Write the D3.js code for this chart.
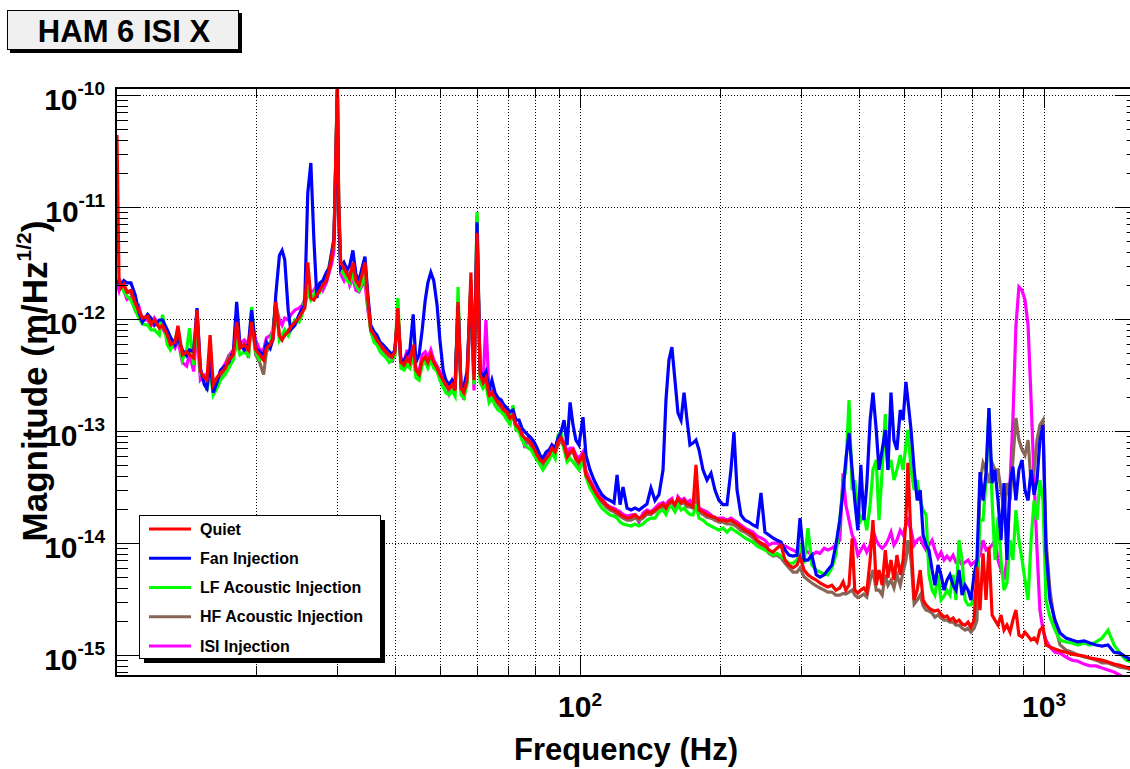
<!DOCTYPE html>
<html>
<head>
<meta charset="utf-8">
<script src="https://cdn.jsdelivr.net/npm/d3@7"></script>
<style>
  body { margin: 0; background: #fff; }
  text { font-family: "Liberation Sans", Arial, Helvetica, sans-serif; font-weight: bold; fill: #000; }
</style>
</head>
<body>
<script>
// Spectra, shared frequency grid (Hz)
const freqHz = [
  10.05,10.15,10.25,10.4,10.56,10.77,11.0,11.2,11.4,11.7,
  11.9,12.1,12.4,12.6,12.9,13.1,13.4,13.6,13.9,14.2,
  14.4,14.7,14.95,15.2,15.5,15.7,15.95,16.2,16.5,16.8,
  17.2,17.5,17.9,18.2,18.5,18.9,19.3,19.6,20.0,
  20.4,20.8,21.1,21.5,21.8,22.1,22.5,22.8,23.1,23.5,
  23.8,24.3,24.8,25.2,25.5,25.9,26.3,26.7,27.1,27.5,
  27.9,28.4,28.8,29.2,29.5,30.0,30.2,30.5,31.0,31.5,
  31.9,32.4,32.9,33.4,33.9,34.4,34.9,35.4,36.0,36.5,
  37.1,37.6,38.2,38.8,39.4,39.9,
  40.5,41.1,41.8,42.4,43.0,43.7,44.3,45.0,45.7,46.4,
  47.0,47.7,48.4,49.2,49.9,50.7,51.4,52.2,53.0,53.8,
  54.6,55.4,56.2,57.1,58.2,59.1,60.0,60.9,61.8,62.7,
  63.7,64.6,65.6,66.6,67.6,68.6,69.6,70.7,71.7,72.8,
  73.9,75.0,76.1,77.3,78.4,79.6,80.8,82.0,83.2,84.5,
  85.8,87.0,88.4,89.7,91.0,92.4,93.8,95.2,96.6,98.0,
  99.5,101.5,103.0,
  105.1,107.2,109.4,111.5,113.8,116.1,118.4,120.2,122.0,123.8,
  126.3,128.8,131.4,134.0,136.7,139.4,142.2,145.1,148.0,151.0,
  153.2,155.5,157.8,160.2,162.6,165.1,167.6,170.1,172.6,175.2,
  177.8,180.5,184.1,187.8,191.6,195.4,199.3,203.3,207.4,211.5,
  214.7,218.0,222.3,226.8,231.3,235.9,240.7,245.5,250.4,255.4,
  260.5,265.8,271.1,276.6,282.1,287.8,293.6,298.0,
  304,310,316,323,329,336,342,349,356,363,
  369,374,380,386,391,397,403,409,415,422,
  428,435,441,448,455,461,468,475,482,490,
  497,504,509,517,525,533,541,549,557,565,
  574,582,591,600,609,618,627,637,646,656,
  666,676,686,696,707,717,
  728,739,750,761,773,784,796,808,820,832,
  845,857,870,883,897,910,924,938,952,966,
  980,995,1010,1030,1056,1083,1115,1149,1184,1220,
  1256,1295,1334,1374,1416,1458,1502,1548
];

// m/sqrt(Hz)
const quiet = [
  4.4e-11,2.3e-12,1.9e-12,2.05e-12,1.74e-12,1.8e-12,1.39e-12,1.18e-12,1.02e-12,1.06e-12,
  9.0e-13,9.8e-13,8.3e-13,8.8e-13,7.2e-13,5.9e-13,6.2e-13,8.7e-13,4.8e-13,5.1e-13,
  4.8e-13,4.5e-13,1.2e-12,3.4e-13,3.0e-13,2.85e-13,7.2e-13,2.6e-13,3.0e-13,3.3e-13,
  3.65e-13,4.3e-13,4.8e-13,9.4e-13,5.5e-13,5.9e-13,5.3e-13,9.4e-13,5.3e-13,
  4.8e-13,4.3e-13,5.5e-13,5.9e-13,6.8e-13,1.42e-12,7.1e-13,6.5e-13,7.2e-13,7.7e-13,
  8.5e-13,9.4e-13,1.02e-12,1.15e-12,1.25e-12,3.2e-12,1.54e-12,1.48e-12,1.64e-12,1.8e-12,
  2.0e-12,2.2e-12,2.75e-12,3.7e-12,5.1e-12,1.3e-10,1.15e-11,3.2e-12,2.85e-12,2.5e-12,
  2.3e-12,3.2e-12,2.2e-12,2.0e-12,2.5e-12,3.2e-12,1.48e-12,8.0e-13,7.2e-13,6.5e-13,
  5.9e-13,5.5e-13,5.1e-13,4.8e-13,4.6e-13,5.1e-13,
  1.25e-12,4.1e-13,3.9e-13,4.5e-13,4.1e-13,5.9e-13,3.5e-13,3.2e-13,4.3e-13,4.6e-13,
  4.1e-13,4.8e-13,4.1e-13,3.65e-13,3.2e-13,2.85e-13,2.6e-13,2.4e-13,2.6e-13,2.3e-13,
  1.42e-12,2.4e-13,2.2e-13,2.85e-13,2.6e-12,2.85e-13,5.9e-12,3.2e-13,2.7e-13,3.0e-13,
  2.1e-13,2.2e-13,1.97e-13,1.8e-13,1.7e-13,1.54e-13,1.48e-13,1.3e-13,1.39e-13,1.13e-13,
  1.06e-13,9.2e-14,8.66e-14,8.3e-14,7.8e-14,7.05e-14,6.1e-14,5.5e-14,5.3e-14,5.7e-14,
  6.1e-14,7.05e-14,6.5e-14,8.0e-14,8.7e-14,7.5e-14,5.9e-14,6.5e-14,6.8e-14,5.7e-14,
  5.3e-14,6.1e-14,4.05e-14,
  3.5e-14,3.0e-14,2.6e-14,2.4e-14,2.2e-14,2.05e-14,1.97e-14,1.9e-14,1.8e-14,1.74e-14,
  1.67e-14,1.7e-14,1.78e-14,1.67e-14,1.74e-14,1.9e-14,1.85e-14,1.97e-14,2.1e-14,2.23e-14,
  2.05e-14,2.3e-14,2.4e-14,2.2e-14,2.5e-14,2.3e-14,2.4e-14,2.23e-14,2.2e-14,2.1e-14,
  5.0e-14,1.97e-14,1.9e-14,1.78e-14,1.74e-14,1.7e-14,1.6e-14,1.6e-14,1.57e-14,1.6e-14,
  1.54e-14,1.48e-14,1.39e-14,1.3e-14,1.25e-14,1.18e-14,1.06e-14,1.0e-14,9.6e-15,8.66e-15,
  8.3e-15,9.0e-15,9.6e-15,7.05e-15,6.36e-15,6.0e-15,6.36e-15,7.5e-15,
  5.74e-15,5.2e-15,4.9e-15,4.67e-15,4.4e-15,4.2e-15,4.05e-15,4.2e-15,3.8e-15,3.97e-15,
  4.5e-15,3.8e-15,4.2e-15,1.1e-14,3.8e-15,3.58e-15,3.8e-15,3.97e-15,3.65e-15,7.05e-15,
  1.6e-14,4.2e-15,5.74e-15,4.2e-15,8.66e-15,4.9e-15,7.05e-15,4.67e-15,7.8e-15,5.2e-15,
  7.05e-15,1.6e-14,5.2e-14,1.06e-14,3.1e-15,3.8e-15,5.74e-15,3.1e-15,2.8e-15,2.63e-15,
  2.52e-15,2.47e-15,2.52e-15,2.32e-15,2.18e-15,2.23e-15,2.05e-15,2.14e-15,1.97e-15,2.05e-15,
  1.89e-15,1.85e-15,1.97e-15,1.78e-15,2.05e-15,6.1e-15,
  2.52e-15,8.1e-15,3.1e-15,9.2e-15,2.28e-15,2.05e-15,1.85e-15,2.28e-15,1.67e-15,1.85e-15,
  1.6e-15,2.05e-15,2.52e-15,1.51e-15,1.45e-15,1.6e-15,1.48e-15,1.36e-15,1.42e-15,1.31e-15,
  1.67e-15,1.78e-15,1.23e-15,1.18e-15,1.13e-15,1.09e-15,1.06e-15,1.02e-15,1.0e-15,9.8e-16,
  9.4e-16,9.2e-16,9.0e-16,8.66e-16,8.3e-16,8.1e-16,7.8e-16,7.5e-16
];

const fanInjection = [
  2.2e-12,2.1e-12,2.0e-12,2.2e-12,2.1e-12,2.1e-12,1.64e-12,1.15e-12,9.4e-13,1.1e-12,
  1.02e-12,8.8e-13,9.8e-13,9.8e-13,8.0e-13,6.9e-13,5.9e-13,6.8e-13,5.3e-13,4.7e-13,
  5.3e-13,5.1e-13,1.25e-12,3.65e-13,2.6e-13,2.4e-13,4.3e-13,2.2e-13,2.7e-13,3.5e-13,
  3.8e-13,4.1e-13,5.1e-13,1.42e-12,5.9e-13,5.3e-13,6.0e-13,1.2e-12,5.5e-13,
  5.1e-13,4.8e-13,6.2e-13,5.5e-13,6.8e-13,1.64e-12,3.7e-12,4.1e-12,3.4e-12,1.2e-12,
  8.0e-13,8.8e-13,1.09e-12,1.25e-12,1.33e-12,1.33e-11,2.47e-11,5.1e-12,1.54e-12,2.1e-12,
  2.2e-12,2.6e-12,2.85e-12,4.1e-12,5.3e-12,1.1e-10,9.4e-12,2.85e-12,3.2e-12,2.75e-12,
  3.0e-12,4.1e-12,2.5e-12,2.2e-12,2.85e-12,3.6e-12,1.64e-12,8.8e-13,7.7e-13,7.2e-13,
  6.2e-13,5.9e-13,5.5e-13,5.1e-13,4.8e-13,5.3e-13,
  1.09e-12,4.3e-13,4.3e-13,4.8e-13,5.3e-13,1.1e-12,4.1e-13,4.8e-13,8.0e-13,1.48e-12,
  2.1e-12,2.6e-12,2.2e-12,1.33e-12,6.5e-13,3.5e-13,2.85e-13,2.6e-13,2.85e-13,2.6e-13,
  1.33e-12,2.6e-13,2.5e-13,3.4e-13,2.0e-12,3.2e-13,7.3e-12,3.5e-13,3.0e-13,3.4e-13,
  2.3e-13,2.85e-13,2.2e-13,1.97e-13,1.9e-13,1.7e-13,1.6e-13,1.48e-13,1.54e-13,1.25e-13,
  1.25e-13,1.06e-13,9.8e-14,9.2e-14,8.7e-14,8.0e-14,7.05e-14,6.1e-14,5.7e-14,6.5e-14,
  6.8e-14,7.5e-14,7.05e-14,8.7e-14,9.8e-14,1.25e-13,7.5e-14,1.8e-13,1.13e-13,8.3e-14,
  7.5e-14,1.33e-13,6.1e-14,
  4.5e-14,3.65e-14,3.1e-14,2.7e-14,2.5e-14,2.4e-14,2.28e-14,4.05e-14,2.2e-14,3.16e-14,
  2.05e-14,1.97e-14,2.05e-14,1.97e-14,2.1e-14,2.23e-14,3.1e-14,2.4e-14,2.7e-14,4.5e-14,
  1.89e-13,4.3e-13,5.6e-13,2.85e-13,1.45e-13,1.25e-13,2.2e-13,1.25e-13,7.5e-14,7.8e-14,
  8.3e-14,6.8e-14,4.5e-14,3.65e-14,4.2e-14,2.97e-14,2.4e-14,2.2e-14,2.2e-14,4.5e-14,
  9.8e-14,2.97e-14,1.78e-14,1.6e-14,1.54e-14,1.45e-14,1.39e-14,2.8e-14,1.25e-14,1.18e-14,
  1.11e-14,1.06e-14,1.02e-14,8.66e-15,7.8e-15,7.65e-15,7.8e-15,1.67e-14,
  7.05e-15,7.05e-15,7.8e-15,5.2e-15,4.97e-15,5.2e-15,5.74e-15,6.36e-15,9.6e-15,1.6e-14,
  2.97e-14,5.5e-14,9.6e-14,4.5e-14,2.4e-14,1.3e-14,5.0e-14,1.6e-14,3.3e-14,1.25e-13,
  2.2e-13,1.02e-13,4.5e-14,6.8e-14,1.02e-13,4.5e-14,2.2e-13,8.3e-14,6.8e-14,1.54e-13,
  1.25e-13,2.75e-13,1.89e-13,1.02e-13,4.5e-14,2.4e-14,2.97e-14,1.18e-14,9.6e-15,8.66e-15,
  5.74e-15,4.2e-15,6.36e-15,5.2e-15,3.8e-15,4.67e-15,5.2e-15,4.2e-15,3.8e-15,5.74e-15,
  3.43e-15,4.2e-15,3.8e-15,3.1e-15,5.2e-15,7.05e-15,
  4.3e-14,2.4e-14,4.2e-14,1.6e-13,3.43e-14,4.5e-14,2.4e-14,1.06e-14,3.43e-14,7.05e-15,
  3.43e-14,4.8e-14,2.4e-14,4.5e-14,5.5e-14,2.97e-14,2.4e-14,4.5e-14,2.7e-14,3.65e-14,
  8.3e-14,1.13e-13,8.66e-15,3.1e-15,2.05e-15,1.57e-15,1.42e-15,1.36e-15,1.31e-15,1.34e-15,
  1.28e-15,1.23e-15,1.2e-15,1.23e-15,1.06e-15,1.04e-15,9.6e-16,9.0e-16
];

const lfAcoustic = [
  2.3e-12,2.2e-12,2.0e-12,1.75e-12,1.6e-12,1.48e-12,1.2e-12,1.02e-12,9.0e-13,8.8e-13,
  8.0e-13,8.0e-13,7.2e-13,1.09e-12,5.9e-13,5.3e-13,6.5e-13,8.0e-13,4.3e-13,5.3e-13,
  8.3e-13,3.9e-13,1.02e-12,3.2e-13,3.0e-13,2.3e-13,3.5e-13,2.1e-13,2.4e-13,2.85e-13,
  3.2e-13,3.65e-13,4.3e-13,6.5e-13,4.8e-13,5.1e-13,4.7e-13,1.28e-12,5.1e-13,
  4.3e-13,4.5e-13,5.3e-13,6.2e-13,8.0e-13,1.48e-12,6.5e-13,7.2e-13,8.0e-13,7.1e-13,
  8.0e-13,9.8e-13,9.4e-13,1.1e-12,1.48e-12,1.8e-12,1.48e-12,1.64e-12,1.9e-12,1.75e-12,
  2.0e-12,2.3e-12,3.0e-12,3.95e-12,4.7e-12,1.3e-10,1.04e-11,2.75e-12,2.5e-12,2.2e-12,
  2.1e-12,2.5e-12,2.0e-12,1.8e-12,2.1e-12,2.5e-12,1.33e-12,7.7e-13,6.2e-13,5.9e-13,
  5.1e-13,4.8e-13,4.5e-13,4.1e-13,4.3e-13,4.8e-13,
  1.54e-12,3.65e-13,3.5e-13,3.9e-13,3.65e-13,4.8e-13,3.0e-13,2.85e-13,3.9e-13,4.1e-13,
  3.65e-13,4.3e-13,3.65e-13,3.4e-13,2.85e-13,2.47e-13,2.2e-13,2.1e-13,2.3e-13,2.05e-13,
  1.93e-12,2.1e-13,1.97e-13,2.6e-13,2.2e-12,2.6e-13,9.0e-12,2.75e-13,2.4e-13,2.6e-13,
  1.8e-13,1.97e-13,1.7e-13,1.54e-13,1.48e-13,1.39e-13,1.25e-13,1.15e-13,1.7e-13,1.02e-13,
  9.8e-14,8.3e-14,7.5e-14,7.05e-14,6.8e-14,6.1e-14,5.5e-14,5.0e-14,4.5e-14,5.0e-14,
  5.5e-14,6.5e-14,5.7e-14,9.2e-14,9.8e-14,6.8e-14,5.3e-14,5.7e-14,5.3e-14,4.9e-14,
  4.5e-14,5.5e-14,3.9e-14,
  3.1e-14,2.7e-14,2.3e-14,2.05e-14,1.9e-14,1.78e-14,1.74e-14,1.67e-14,1.54e-14,1.48e-14,
  1.45e-14,1.42e-14,1.48e-14,1.42e-14,1.48e-14,1.6e-14,1.67e-14,1.67e-14,1.9e-14,1.97e-14,
  1.8e-14,2.1e-14,2.1e-14,1.9e-14,2.2e-14,1.97e-14,2.05e-14,1.9e-14,1.8e-14,1.78e-14,
  2.2e-14,1.67e-14,1.6e-14,1.48e-14,1.42e-14,1.36e-14,1.3e-14,1.36e-14,1.25e-14,1.36e-14,
  1.3e-14,1.25e-14,1.18e-14,1.11e-14,1.06e-14,1.02e-14,9.4e-15,9.0e-15,8.66e-15,8.3e-15,
  7.8e-15,8.1e-15,7.65e-15,7.05e-15,6.6e-15,6.6e-15,7.05e-15,9.0e-15,
  6.6e-15,1.36e-14,6.36e-15,5.74e-15,5.5e-15,5.3e-15,5.2e-15,6.0e-15,7.8e-15,1.6e-14,
  3.43e-14,4.5e-14,1.89e-13,2.97e-14,3.65e-14,1.97e-14,1.6e-14,1.85e-14,1.3e-14,2.2e-14,
  4.5e-14,5.5e-14,1.6e-14,4.5e-14,1.42e-13,4.5e-14,5.5e-14,3.65e-14,4.5e-14,6.1e-14,
  4.5e-14,7.5e-14,1.02e-13,4.5e-14,2.97e-14,3.65e-14,2.4e-14,1.97e-14,1.78e-14,5.2e-15,
  3.8e-15,3.43e-15,5.2e-15,3.1e-15,3.35e-15,3.8e-15,3.43e-15,5.2e-15,3.1e-15,1.06e-14,
  7.05e-15,3.1e-15,2.8e-15,2.8e-15,3.25e-15,3.8e-15,
  1.6e-14,1.6e-14,3.65e-14,1.6e-13,2.4e-14,7.05e-15,1.7e-14,7.05e-15,3.8e-15,4.4e-15,
  1.06e-14,7.05e-15,1.97e-14,1.06e-14,7.05e-15,4.67e-15,3.1e-15,1.06e-14,2.4e-14,1.6e-14,
  3.65e-14,2.4e-14,3.1e-15,2.18e-15,1.67e-15,1.36e-15,1.31e-15,1.28e-15,1.23e-15,1.28e-15,
  1.23e-15,1.31e-15,1.42e-15,1.67e-15,1.23e-15,1.04e-15,9.0e-16,8.66e-16
];

const hfAcoustic = [
  2.2e-12,2.1e-12,1.9e-12,2.0e-12,1.75e-12,1.7e-12,1.39e-12,1.18e-12,1.04e-12,1.02e-12,
  9.4e-13,9.4e-13,8.5e-13,8.5e-13,7.2e-13,6.1e-13,5.9e-13,7.5e-13,4.8e-13,5.1e-13,
  5.1e-13,4.3e-13,9.8e-13,3.4e-13,2.85e-13,2.6e-13,4.8e-13,2.7e-13,2.6e-13,3.1e-13,
  3.5e-13,4.7e-13,4.7e-13,5.9e-13,5.6e-13,6.0e-13,4.5e-13,1.02e-12,4.8e-13,
  4.1e-13,3.2e-13,5.1e-13,5.7e-13,6.5e-13,1.3e-12,7.1e-13,6.8e-13,7.1e-13,8.0e-13,
  8.3e-13,9.2e-13,1.06e-12,1.18e-12,1.25e-12,1.8e-12,1.6e-12,1.6e-12,1.7e-12,1.9e-12,
  2.05e-12,2.4e-12,2.85e-12,3.7e-12,4.9e-12,1.1e-10,8.5e-12,3.0e-12,2.75e-12,2.4e-12,
  2.6e-12,2.85e-12,2.1e-12,1.9e-12,2.2e-12,2.75e-12,1.48e-12,8.0e-13,6.8e-13,6.2e-13,
  5.5e-13,5.3e-13,4.9e-13,4.6e-13,4.5e-13,4.7e-13,
  1.15e-12,4.1e-13,3.7e-13,4.3e-13,4.1e-13,5.3e-13,3.4e-13,3.1e-13,4.1e-13,4.3e-13,
  4.05e-13,4.5e-13,3.9e-13,3.5e-13,3.05e-13,2.7e-13,2.5e-13,2.3e-13,2.5e-13,2.2e-13,
  1.48e-12,2.3e-13,2.2e-13,2.75e-13,2.0e-12,2.75e-13,8.5e-12,3.0e-13,2.6e-13,2.85e-13,
  2.0e-13,2.1e-13,1.9e-13,1.74e-13,1.6e-13,1.48e-13,1.39e-13,1.25e-13,1.36e-13,1.06e-13,
  1.02e-13,8.8e-14,8.3e-14,8.0e-14,7.35e-14,6.8e-14,5.7e-14,5.3e-14,5.0e-14,5.5e-14,
  5.7e-14,6.8e-14,6.3e-14,7.5e-14,8.3e-14,7.05e-14,5.7e-14,6.3e-14,6.5e-14,5.5e-14,
  5.0e-14,5.9e-14,4.0e-14,
  3.35e-14,2.85e-14,2.47e-14,2.3e-14,2.1e-14,1.97e-14,1.9e-14,1.8e-14,1.74e-14,1.67e-14,
  1.6e-14,1.6e-14,1.67e-14,1.6e-14,1.67e-14,1.8e-14,1.8e-14,1.9e-14,2.05e-14,2.1e-14,
  2.05e-14,2.23e-14,2.3e-14,2.2e-14,2.4e-14,2.23e-14,2.3e-14,2.1e-14,2.1e-14,2.05e-14,
  2.97e-14,1.9e-14,1.8e-14,1.7e-14,1.67e-14,1.6e-14,1.54e-14,1.54e-14,1.48e-14,1.48e-14,
  1.45e-14,1.39e-14,1.3e-14,1.25e-14,1.18e-14,1.11e-14,1.02e-14,9.6e-15,9.0e-15,8.1e-15,
  7.65e-15,7.8e-15,7.35e-15,6.6e-15,6.0e-15,5.5e-15,5.5e-15,6.0e-15,
  5.0e-15,4.67e-15,4.4e-15,4.15e-15,3.97e-15,3.8e-15,3.65e-15,3.65e-15,3.43e-15,3.43e-15,
  3.55e-15,3.5e-15,3.65e-15,3.8e-15,3.43e-15,3.25e-15,3.35e-15,3.5e-15,3.3e-15,4.67e-15,
  5.74e-15,3.8e-15,3.8e-15,3.43e-15,5.2e-15,4.2e-15,4.67e-15,3.97e-15,5.2e-15,4.2e-15,
  5.5e-15,7.05e-15,1.06e-14,7.05e-15,2.85e-15,3.1e-15,3.43e-15,2.75e-15,2.52e-15,2.47e-15,
  2.37e-15,2.18e-15,2.28e-15,2.14e-15,2.05e-15,2.05e-15,1.97e-15,1.97e-15,1.85e-15,1.85e-15,
  1.74e-15,1.67e-15,1.74e-15,1.6e-15,1.74e-15,2.05e-15,
  3.43e-14,5.2e-14,4.5e-14,3.43e-14,5.2e-14,4.5e-14,4.5e-14,2.97e-14,1.97e-14,3.43e-14,
  2.4e-14,5.5e-14,1.31e-13,8.3e-14,6.8e-14,6.1e-14,8.3e-14,3.43e-14,4.5e-14,8.3e-14,
  1.13e-13,1.25e-13,1.06e-14,3.8e-15,1.85e-15,1.23e-15,1.11e-15,1.06e-15,1.0e-15,9.6e-16,
  9.4e-16,9.0e-16,8.5e-16,8.5e-16,8.1e-16,7.8e-16,7.65e-16,7.35e-16
];

const isiInjection = [
  2.1e-12,1.8e-12,2.1e-12,1.8e-12,1.5e-12,1.57e-12,1.2e-12,1.3e-12,9.8e-13,9.8e-13,
  8.7e-13,1.02e-12,8.8e-13,8.3e-13,6.8e-13,6.2e-13,5.5e-13,6.5e-13,4.1e-13,3.8e-13,
  4.9e-13,3.4e-13,8.0e-13,2.85e-13,3.1e-13,2.3e-13,3.65e-13,2.85e-13,2.6e-13,3.4e-13,
  4.0e-13,4.7e-13,5.3e-13,6.5e-13,6.0e-13,6.5e-13,5.9e-13,9.8e-13,6.5e-13,
  5.3e-13,5.3e-13,6.8e-13,7.1e-13,8.0e-13,1.33e-12,9.8e-13,8.8e-13,1.02e-12,9.8e-13,
  1.09e-12,1.2e-12,1.25e-12,1.33e-12,1.48e-12,1.64e-12,1.75e-12,1.8e-12,2.0e-12,2.0e-12,
  1.8e-12,2.1e-12,2.6e-12,3.2e-12,4.1e-12,9.0e-11,7.7e-12,2.5e-12,2.2e-12,2.6e-12,
  2.0e-12,2.3e-12,1.8e-12,1.75e-12,2.0e-12,2.1e-12,1.2e-12,8.3e-13,7.1e-13,6.8e-13,
  6.0e-13,5.7e-13,5.3e-13,5.1e-13,4.1e-13,5.3e-13,
  1.02e-12,4.5e-13,4.1e-13,5.3e-13,4.3e-13,5.5e-13,3.65e-13,3.4e-13,4.8e-13,5.1e-13,
  4.5e-13,5.3e-13,4.3e-13,3.8e-13,3.4e-13,3.0e-13,2.85e-13,2.2e-13,2.75e-13,2.2e-13,
  1.33e-12,2.5e-13,1.9e-13,3.0e-13,1.48e-12,2.3e-13,6.2e-12,3.4e-13,2.6e-13,9.8e-13,
  2.1e-13,2.3e-13,2.05e-13,1.9e-13,1.74e-13,1.48e-13,1.54e-13,1.36e-13,1.42e-13,1.06e-13,
  1.15e-13,9.6e-14,7.05e-14,8.7e-14,8.0e-14,7.35e-14,6.5e-14,5.7e-14,5.5e-14,6.1e-14,
  6.5e-14,7.5e-14,6.8e-14,8.3e-14,8.9e-14,8.0e-14,6.5e-14,7.05e-14,7.05e-14,6.1e-14,
  5.7e-14,6.5e-14,4.4e-14,
  3.65e-14,3.16e-14,2.75e-14,2.5e-14,2.23e-14,2.1e-14,2.05e-14,1.97e-14,1.9e-14,1.8e-14,
  1.74e-14,1.78e-14,1.8e-14,1.54e-14,1.85e-14,1.97e-14,1.9e-14,2.05e-14,2.23e-14,2.3e-14,
  2.2e-14,2.4e-14,2.5e-14,1.97e-14,2.6e-14,2.4e-14,2.5e-14,2.3e-14,2.4e-14,2.23e-14,
  2.4e-14,2.05e-14,1.97e-14,1.9e-14,1.78e-14,1.6e-14,1.67e-14,1.67e-14,1.6e-14,1.67e-14,
  1.6e-14,1.54e-14,1.45e-14,1.36e-14,1.3e-14,1.25e-14,1.15e-14,1.11e-14,1.06e-14,9.6e-15,
  1.0e-14,1.0e-14,9.6e-15,9.4e-15,9.0e-15,8.66e-15,8.3e-15,8.66e-15,
  8.66e-15,8.3e-15,7.8e-15,8.3e-15,8.1e-15,9.0e-15,8.66e-15,9.0e-15,9.6e-15,1.06e-14,
  4.2e-14,2.2e-14,1.6e-14,1.18e-14,1.06e-14,7.8e-15,8.66e-15,9.6e-15,8.3e-15,9.6e-15,
  1.3e-14,1.06e-14,9.6e-15,9.0e-15,9.6e-15,1.06e-14,1.25e-14,9.6e-15,1.06e-14,1.3e-14,
  1.18e-14,1.45e-14,1.6e-14,1.3e-14,9.6e-15,1.06e-14,1.11e-14,9.6e-15,8.66e-15,9.6e-15,
  1.06e-14,8.66e-15,7.35e-15,8.3e-15,7.05e-15,7.65e-15,7.05e-15,7.8e-15,6.75e-15,7.05e-15,
  6.36e-15,6.75e-15,7.05e-15,6.36e-15,6.75e-15,7.05e-15,
  7.8e-15,1.06e-14,8.66e-15,9.0e-15,9.6e-15,1.06e-14,7.05e-15,5.74e-15,4.67e-15,7.05e-15,
  3.43e-14,1.25e-13,8.7e-13,1.93e-12,1.8e-12,1.48e-12,8.8e-13,1.89e-13,3.65e-14,8.66e-15,
  2.52e-15,1.67e-15,1.36e-15,1.18e-15,1.06e-15,1.04e-15,9.6e-16,9.0e-16,8.8e-16,8.3e-16,
  8.0e-16,8.0e-16,7.65e-16,7.35e-16,7.05e-16,6.6e-16,6.2e-16,6.0e-16
];

const legendNames = ["Quiet", "Fan Injection", "LF Acoustic Injection", "HF Acoustic Injection", "ISI Injection"];
const legendColors = ["#ff0000", "#0000ff", "#00ff00", "#876657", "#ff00ff"];
const legendValues = [quiet, fanInjection, lfAcoustic, hfAcoustic, isiInjection];

const xGridHz = [20, 30, 40, 50, 60, 70, 80, 90, 100, 200, 300, 400, 500, 600, 700, 800, 900, 1000];
const xLabelHz = [100, 1000];
const yDecades = [1e-15, 1e-14, 1e-13, 1e-12, 1e-11, 1e-10];

const W = 1130, H = 769;
const frame = {left: 116, top: 88, right: 1138.7, bottom: 676};

let svg = d3.select("body").append("svg")
    .attr("width", W)
    .attr("height", H);

let x = d3.scaleLog().domain([10, 1600]).range([frame.left, frame.right]);
let y = d3.scaleLog().domain([6.5e-16, 1.155e-10]).range([frame.bottom, frame.top]);

// dotted grid
let grid = svg.append("g")
    .attr("stroke", "#000")
    .attr("stroke-width", 1)
    .attr("stroke-dasharray", "1,2");

grid.selectAll(".gx").data(xGridHz).enter()
    .append("line")
    .attr("x1", d => Math.round(x(d)) + 0.5)
    .attr("x2", d => Math.round(x(d)) + 0.5)
    .attr("y1", frame.top)
    .attr("y2", frame.bottom);

grid.selectAll(".gy").data(yDecades).enter()
    .append("line")
    .attr("x1", frame.left)
    .attr("x2", frame.right)
    .attr("y1", d => Math.round(y(d)) + 0.5)
    .attr("y2", d => Math.round(y(d)) + 0.5);

// curves
svg.append("defs").append("clipPath").attr("id", "plotArea")
    .append("rect")
    .attr("x", frame.left)
    .attr("y", frame.top)
    .attr("width", frame.right - frame.left)
    .attr("height", frame.bottom - frame.top);

let line = d3.line()
    .defined(d => d[1] > 0)
    .x(d => x(d[0]))
    .y(d => y(d[1]));

let curves = svg.append("g").attr("clip-path", "url(#plotArea)");

// ISI drawn first, Quiet last (on top)
[4, 3, 2, 1, 0].forEach(i => {
    curves.append("path")
        .datum(d3.zip(freqHz, legendValues[i]))
        .attr("d", line)
        .attr("fill", "none")
        .attr("stroke", legendColors[i])
        .attr("stroke-width", 3.2);
});

// frame
svg.append("rect")
    .attr("x", frame.left)
    .attr("y", frame.top)
    .attr("width", frame.right - frame.left)
    .attr("height", frame.bottom - frame.top)
    .attr("fill", "none")
    .attr("stroke", "#000")
    .attr("stroke-width", 2);

// ticks
let yMinor = [];
[-16, -15, -14, -13, -12, -11].forEach(e => {
    for (let m = 2; m <= 9; m++) {
        let v = m * Math.pow(10, e);
        if (v > 6.5e-16 && v < 1.155e-10) yMinor.push(v);
    }
});

let ticks = svg.append("g").attr("stroke", "#000").attr("stroke-width", 1);

ticks.selectAll(".tyl").data(yDecades.map(v => [v, 24]).concat(yMinor.map(v => [v, 12]))).enter()
    .append("path")
    .attr("d", d => {
        let yy = Math.round(y(d[0])) + 0.5;
        return `M${frame.left},${yy}h${d[1]}M${frame.right},${yy}h${-d[1]}`;
    });

ticks.selectAll(".tx").data(xGridHz).enter()
    .append("path")
    .attr("d", d => {
        let xx = Math.round(x(d)) + 0.5;
        let len = xLabelHz.includes(d) ? 20 : 10;
        return `M${xx},${frame.bottom}v${-len}M${xx},${frame.top}v${len}`;
    });

// tick labels
let xLab = svg.selectAll(".xl").data(xLabelHz).enter()
    .append("text")
    .attr("x", d => x(d))
    .attr("y", 717)
    .attr("text-anchor", "middle")
    .style("font-size", "30px");
xLab.append("tspan").text("10");
xLab.append("tspan").attr("dy", -11).style("font-size", "19px").text(d => Math.round(Math.log10(d)));

let yLab = svg.selectAll(".yl").data(yDecades).enter()
    .append("text")
    .attr("x", 105)
    .attr("y", d => y(d) + 15)
    .attr("text-anchor", "end")
    .style("font-size", "30px");
yLab.append("tspan").text("10");
yLab.append("tspan").attr("dy", -15).style("font-size", "19px").text(d => Math.round(Math.log10(d)));

// axis titles
svg.append("text")
    .attr("x", 626)
    .attr("y", 760)
    .attr("text-anchor", "middle")
    .style("font-size", "31px")
    .text("Frequency (Hz)");

let yTitle = svg.append("text")
    .attr("transform", "translate(47,381) rotate(-90)")
    .attr("text-anchor", "middle")
    .style("font-size", "35px");
yTitle.append("tspan").text("Magnitude (m/Hz");
yTitle.append("tspan").attr("dy", -16).style("font-size", "21px").text("1/2");
yTitle.append("tspan").attr("dy", 16).text(")");

// title box
svg.append("rect").attr("x", 10).attr("y", 13).attr("width", 232).attr("height", 40).attr("fill", "#000");
svg.append("rect").attr("x", 7.5).attr("y", 10.5).attr("width", 231).attr("height", 39)
    .attr("fill", "#f0f0f0").attr("stroke", "#000").attr("stroke-width", 1);
svg.append("text")
    .attr("x", 124)
    .attr("y", 42)
    .attr("text-anchor", "middle")
    .style("font-size", "31px")
    .text("HAM 6 ISI X");

// legend
let lg = svg.append("g");
lg.append("rect").attr("x", 144).attr("y", 520).attr("width", 241).attr("height", 143).attr("fill", "#000");
lg.append("rect").attr("x", 139.5).attr("y", 515.5).attr("width", 241).attr("height", 143)
    .attr("fill", "#fff").attr("stroke", "#000").attr("stroke-width", 1);

let items = lg.selectAll(".item").data(legendNames).enter()
    .append("g")
    .attr("transform", (d, i) => `translate(0, ${529 + i * 29.25})`);
items.append("line")
    .attr("x1", 149).attr("x2", 191)
    .attr("stroke", (d, i) => legendColors[i])
    .attr("stroke-width", 3);
items.append("text")
    .attr("x", 200)
    .attr("y", 5.5)
    .style("font-size", "16px")
    .text(d => d);
</script>
</body>
</html>
